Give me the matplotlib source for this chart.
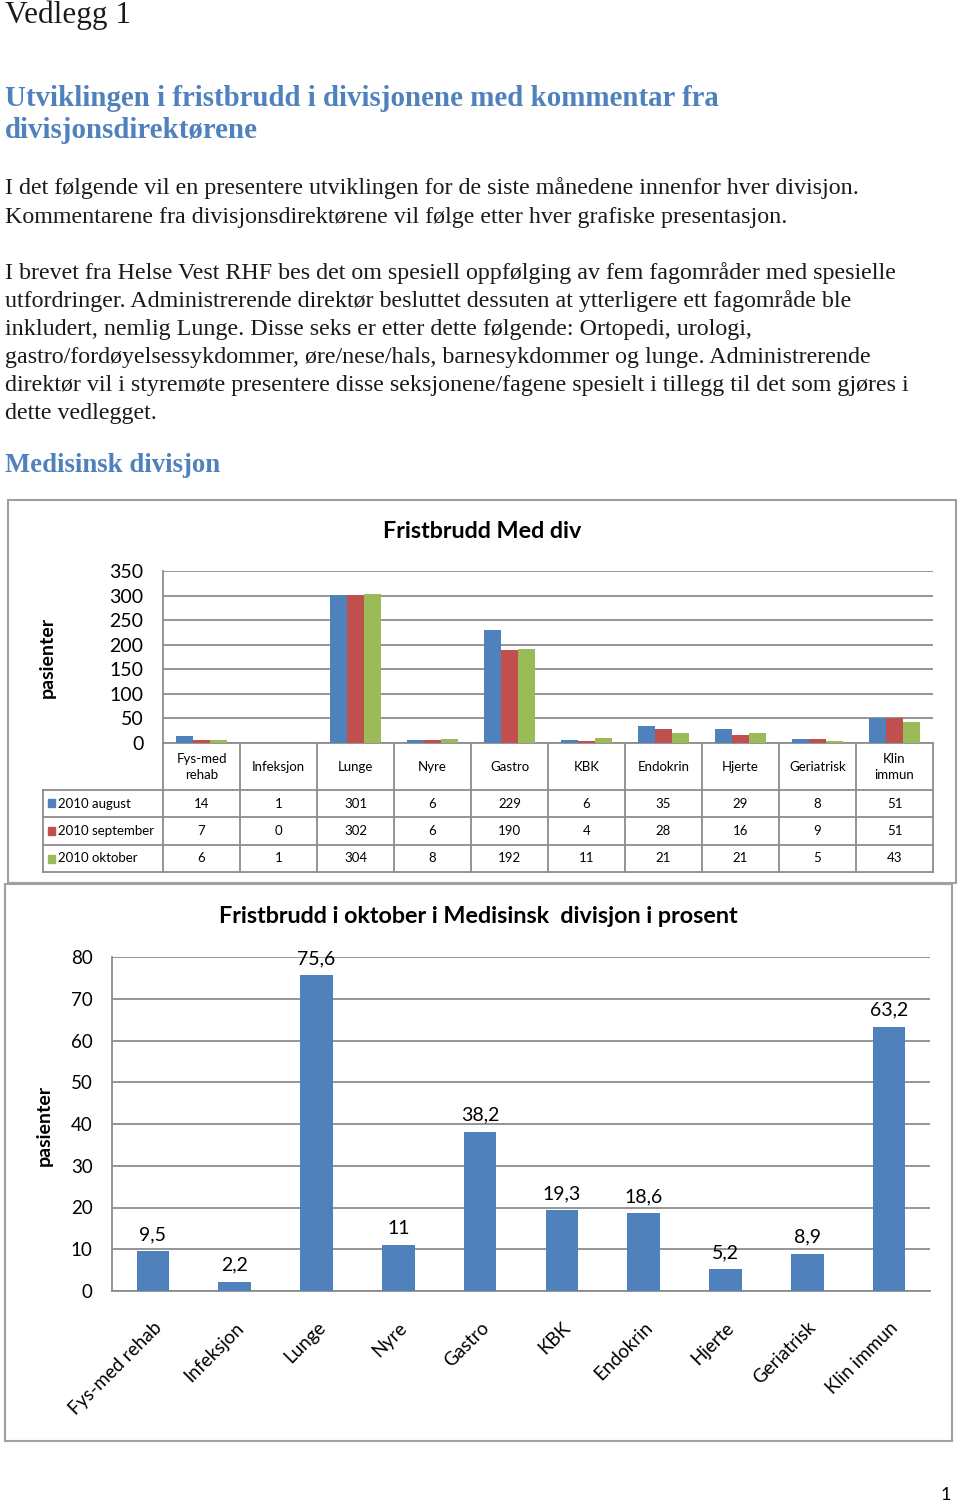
import matplotlib
matplotlib.use('Agg')
import matplotlib.pyplot as plt
from matplotlib.patches import Rectangle
import numpy as np

W, H = 960, 1505

categories = ['Fys-med\nrehab', 'Infeksjon', 'Lunge', 'Nyre', 'Gastro', 'KBK',
              'Endokrin', 'Hjerte', 'Geriatrisk', 'Klin\nimmun']
series_names = ['2010 august', '2010 september', '2010 oktober']
august = [14, 1, 301, 6, 229, 6, 35, 29, 8, 51]
september = [7, 0, 302, 6, 190, 4, 28, 16, 9, 51]
oktober = [6, 1, 304, 8, 192, 11, 21, 21, 5, 43]
series_colors = ['#4F81BD', '#C0504D', '#9BBB59']

pct_categories = ['Fys-med rehab', 'Infeksjon', 'Lunge', 'Nyre', 'Gastro', 'KBK',
                  'Endokrin', 'Hjerte', 'Geriatrisk', 'Klin immun']
pct_oktober = [9.5, 2.2, 75.6, 11, 38.2, 19.3, 18.6, 5.2, 8.9, 63.2]

body_lines = [
    'I det følgende vil en presentere utviklingen for de siste månedene innenfor hver divisjon.',
    'Kommentarene fra divisjonsdirektørene vil følge etter hver grafiske presentasjon.',
    'I brevet fra Helse Vest RHF bes det om spesiell oppfølging av fem fagområder med spesielle',
    'utfordringer. Administrerende direktør besluttet dessuten at ytterligere ett fagområde ble',
    'inkludert, nemlig Lunge. Disse seks er etter dette følgende: Ortopedi, urologi,',
    'gastro/fordøyelsessykdommer, øre/nese/hals, barnesykdommer og lunge. Administrerende',
    'direktør vil i styremøte presentere disse seksjonene/fagene spesielt i tillegg til det som gjøres i',
    'dette vedlegget.',
]
body_y = [188, 217, 273, 301, 329, 358, 386, 414]

SERIF = 'Liberation Serif'
SANS = 'Lato'
BLUE = '#4F81BD'
GRID = '#8C8C8C'


def fx(x):
    return x / W


def fy(y):
    return 1 - y / H


def add_ax(left, top, right, bottom):
    return fig.add_axes([fx(left), fy(bottom), (right - left) / W, (bottom - top) / H])


def box(left, top, right, bottom):
    fig.patches.append(Rectangle((fx(left), fy(bottom)), (right - left) / W, (bottom - top) / H,
                                 transform=fig.transFigure, fill=False, ec='#A0A0A0', lw=1.5))


fig = plt.figure(figsize=(W / 100, H / 100), dpi=100)
fig.patch.set_facecolor('white')

# document text
fig.text(fx(5), fy(15), 'Vedlegg 1', family=SERIF, fontsize=22.5, va='center', color='#1a1a1a')
fig.text(fx(5), fy(99), 'Utviklingen i fristbrudd i divisjonene med kommentar fra',
         family=SERIF, fontsize=20.8, weight='bold', color=BLUE, va='center')
fig.text(fx(5), fy(131), 'divisjonsdirektørene', family=SERIF, fontsize=20.8, weight='bold',
         color=BLUE, va='center')
for line, y in zip(body_lines, body_y):
    fig.text(fx(5), fy(y), line, family=SERIF, fontsize=17.3, va='center', color='#1a1a1a')
fig.text(fx(5), fy(465), 'Medisinsk divisjon', family=SERIF, fontsize=19.3, weight='bold',
         color=BLUE, va='center')
fig.text(fx(946), fy(1495), '1', family=SANS, fontsize=13, ha='center', va='center')

# chart 1: grouped bars
box(8, 500, 956, 883)
fig.text(fx(482), fy(531), 'Fristbrudd Med div', family=SANS, fontsize=16.8, weight='bold',
         ha='center', va='center')
ax1 = add_ax(163, 571, 933, 743)
x = np.arange(len(categories))
bw = 0.22
for i, (vals, col) in enumerate(zip([august, september, oktober], series_colors)):
    ax1.bar(x + (i - 1) * bw, vals, bw, color=col, zorder=3)
ax1.set_xlim(-0.5, len(categories) - 0.5)
ax1.set_ylim(0, 350)
ax1.set_yticks(range(0, 351, 50))
ax1.yaxis.grid(True, color=GRID, lw=1.3)
ax1.set_axisbelow(True)
ax1.set_xticks([])
ax1.tick_params(axis='y', length=0, pad=14, labelsize=14)
for lab in ax1.get_yticklabels():
    lab.set_family(SANS)
for s in ['top', 'right']:
    ax1.spines[s].set_visible(False)
for s in ['left', 'bottom']:
    ax1.spines[s].set_color(GRID)
    ax1.spines[s].set_linewidth(1.3)
fig.text(fx(47), fy(657), 'pasienter', family=SANS, fontsize=14, weight='bold',
         rotation=90, ha='center', va='center')

# data table under chart 1
lab_w = 120 / 77
tax = add_ax(43, 743, 933, 872)
tax.set_xlim(-0.5 - lab_w, len(categories) - 0.5)
tax.set_ylim(129, 0)
tax.axis('off')
rows = [0, 47, 74, 102, 129]
edges = np.arange(len(categories) + 1) - 0.5
for e in edges:
    tax.plot([e, e], [0, 129], color=GRID, lw=1.3, clip_on=False)
tax.plot([-0.5 - lab_w] * 2, [47, 129], color=GRID, lw=1.3, clip_on=False)
for r in rows[1:]:
    tax.plot([-0.5 - lab_w, edges[-1]], [r, r], color=GRID, lw=1.3, clip_on=False)
for i, c in enumerate(categories):
    tax.text(i, 24, c, ha='center', va='center', family=SANS, fontsize=9.5, linespacing=1.35)
for j, (name, vals, col) in enumerate(zip(series_names, [august, september, oktober], series_colors)):
    yc = (rows[j + 1] + rows[j + 2]) / 2
    tax.add_patch(Rectangle((-0.5 - lab_w + 0.06, yc - 4), 0.09, 8, color=col, clip_on=False))
    tax.text(-0.5 - lab_w + 0.2, yc, name, va='center', family=SANS, fontsize=9.5)
    for i, v in enumerate(vals):
        tax.text(i, yc, str(v), ha='center', va='center', family=SANS, fontsize=9.5)

# chart 2: percent bars
box(5, 884, 952, 1441)
fig.text(fx(478), fy(917), 'Fristbrudd i oktober i Medisinsk  divisjon i prosent', family=SANS,
         fontsize=16.8, weight='bold', ha='center', va='center')
ax2 = add_ax(112, 957, 930, 1291)
x2 = np.arange(len(pct_categories))
ax2.bar(x2, pct_oktober, 0.4, color=series_colors[0], zorder=3)
for xi, v in zip(x2, pct_oktober):
    ax2.annotate(f'{v:g}'.replace('.', ','), (xi, v), xytext=(0, 6), textcoords='offset points',
                 ha='center', va='bottom', family=SANS, fontsize=14)
ax2.set_xlim(-0.5, len(pct_categories) - 0.5)
ax2.set_ylim(0, 80)
ax2.set_yticks(range(0, 81, 10))
ax2.yaxis.grid(True, color=GRID, lw=1.3)
ax2.set_axisbelow(True)
ax2.set_xticks(x2)
ax2.set_xticklabels(pct_categories, rotation=45, ha='right', rotation_mode='anchor',
                    family=SANS, fontsize=13.5)
ax2.tick_params(axis='x', length=0, pad=20)
ax2.tick_params(axis='y', length=0, pad=14, labelsize=13.5)
for lab in ax2.get_yticklabels():
    lab.set_family(SANS)
for s in ['top', 'right']:
    ax2.spines[s].set_visible(False)
for s in ['left', 'bottom']:
    ax2.spines[s].set_color(GRID)
    ax2.spines[s].set_linewidth(1.3)
fig.text(fx(44), fy(1125), 'pasienter', family=SANS, fontsize=14, weight='bold',
         rotation=90, ha='center', va='center')

fig.savefig('out.png', dpi=100)
